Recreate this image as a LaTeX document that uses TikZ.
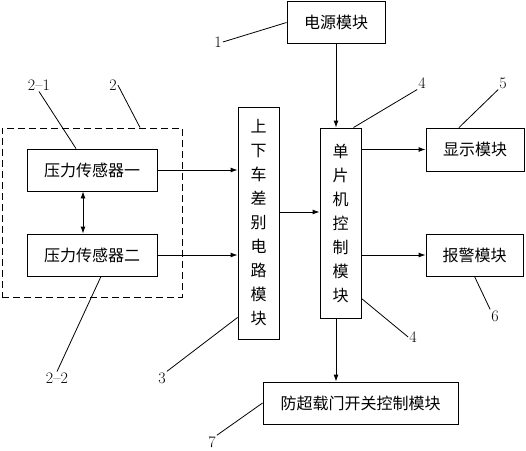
\documentclass[tikz,border=0pt]{standalone}
\usepackage{fontspec}
\newfontfamily\cjk{Noto Sans CJK SC}
\usetikzlibrary{arrows.meta}

\begin{document}
\begin{tikzpicture}[
    x=1pt, y=-1pt,
    box/.style={
        rectangle, draw, line width=0.9pt, inner sep=0pt,
        font=\cjk\fontsize{16}{18}\selectfont
    },
    wideBox/.style={box, minimum height=42pt},
    tallBox/.style={box, minimum width=41pt, align=center,
        font=\cjk\fontsize{16}{24}\selectfont},
    groupBox/.style={rectangle, draw, line width=0.9pt, dash pattern=on 7pt off 4pt},
    flow/.style={draw, line width=0.9pt, -{Latex[length=7pt,width=5pt]}},
    tag/.style={inner sep=1pt, font=\fontsize{16}{18}\selectfont},
    leader/.style={draw, line width=0.8pt}
]
    \useasboundingbox (0,0) rectangle (526,450);

    % --- 1. Modules ---
    \node[wideBox, minimum width=98pt] (power) at (336,22.5) {电源模块};
    \node[wideBox, minimum width=130pt] (sensorA) at (92,170) {压力传感器一};
    \node[wideBox, minimum width=130pt] (sensorB) at (92,255) {压力传感器二};
    \node[groupBox, minimum width=180pt, minimum height=169pt] (group) at (92,212.5) {};
    \node[tallBox, minimum height=232pt] (diff) at (258.5,223) {上\\下\\车\\差\\别\\电\\路\\模\\块};
    \node[tallBox, minimum height=190pt] (mcu) at (340.5,223) {单\\片\\机\\控\\制\\模\\块};
    \node[wideBox, minimum width=98pt, minimum height=43pt] (display) at (475,149.5) {显示模块};
    \node[wideBox, minimum width=97pt] (alarm) at (474.5,255) {报警模块};
    \node[wideBox, minimum width=195pt] (gate) at (360.5,403) {防超载门开关控制模块};

    % --- 2. Signal flow ---
    \draw[flow] (power.south) -- (power.south |- mcu.north);
    \draw[flow] (sensorA.east) -- (sensorA.east -| diff.west);
    \draw[flow] (sensorB.east) -- (sensorB.east -| diff.west);
    \draw[flow] ([yshift=11pt]diff.east) -- ([yshift=11pt]mcu.west);
    \draw[flow] (mcu.east |- display.west) -- (display.west);
    \draw[flow] (mcu.east |- alarm.west) -- (alarm.west);
    \draw[flow] (power.south |- mcu.south) -- (power.south |- gate.north);
    \draw[line width=0.9pt, {Latex[length=7pt,width=5pt]}-{Latex[length=7pt,width=5pt]}]
        ([xshift=-9pt]sensorA.south) -- ([xshift=-9pt]sensorB.north);

    % --- 3. Reference numbers ---
    \node[tag] (l1) at (218,42) {1};
    \draw[leader] (l1.east) -- (power.west);
    \node[tag] (l21) at (39,85) {2--1};
    \draw[leader] (l21.south) -- ([xshift=-16pt]sensorA.north);
    \node[tag] (l2) at (113,85) {2};
    \draw[leader] (l2.east) -- ([xshift=48pt]group.north);
    \node[tag] (l22) at (57,378) {2--2};
    \draw[leader] (l22.north) -- ([xshift=9pt]sensorB.south);
    \node[tag] (l3) at (162,378) {3};
    \draw[leader] (l3.north east) -- ([yshift=22pt]diff.south west);
    \node[tag] (l4a) at (422,83) {4};
    \draw[leader] (l4a.south west) -- ([xshift=-8pt]mcu.north east);
    \node[tag] (l5) at (503,83) {5};
    \draw[leader] (l5.south west) -- ([xshift=-16pt]display.north);
    \node[tag] (l4b) at (413,337) {4};
    \draw[leader] (l4b.west) -- ([yshift=20pt]mcu.south east);
    \node[tag] (l6) at (495,316) {6};
    \draw[leader] (l6.north west) -- (alarm.south);
    \node[tag] (l7) at (212,442) {7};
    \draw[leader] (l7.north east) -- (gate.west);
\end{tikzpicture}
\end{document}
